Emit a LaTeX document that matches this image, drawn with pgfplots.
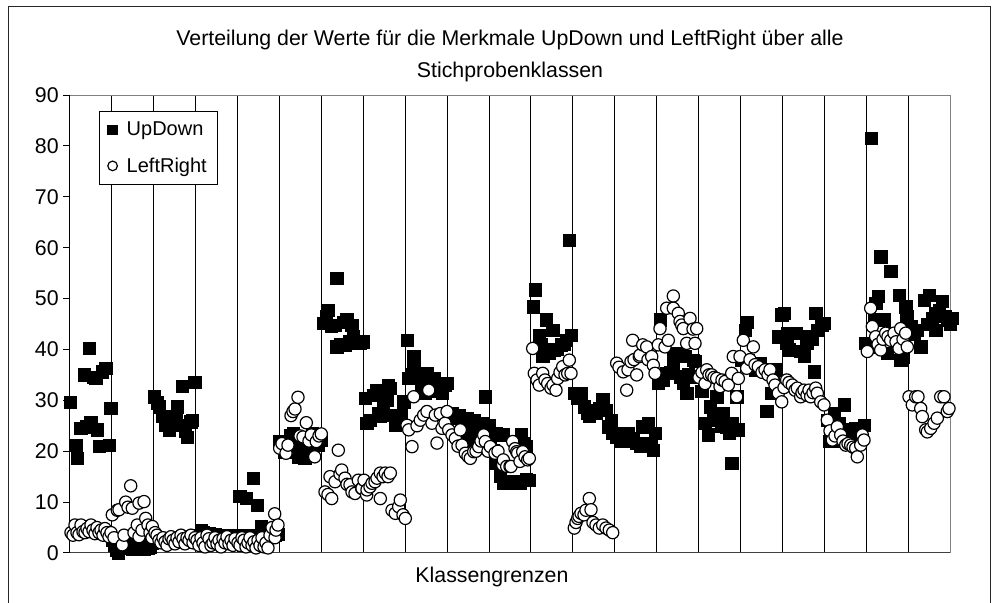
\documentclass[border=0pt]{standalone}
\usepackage{pgfplots}
\pgfplotsset{compat=1.18}
\usepackage{fontspec}
\setmainfont{Liberation Sans}

\pgfplotstableread{
x y
70.7 29.6
75.7 21.2
77.3 18.6
80.7 24.5
84 35
86 24.8
89 40.2
90.7 25.6
93 34.5
95.7 34.3
97.3 24.2
99 20.9
102.3 35.6
105.7 36.3
109 21.2
110.7 28.4
112 2.5
114 1.5
116 0.5
118 0
120 1
122 2
124 1.5
126 3
128 2.2
130 1
132 0.8
134 2.5
136 1.2
138 3.5
140 1
142 2
144 0.8
146 1.5
148 1
150 1.2
152 2
154 30.7
157 29.5
159 28.7
162.3 26.8
165.7 25.1
169 24.2
172 25.5
175.7 26.8
177.3 28.7
179 25.1
182.3 32.7
185 24
187.3 22.8
190.7 25.8
192 26
194.7 33.5
197 3
199 3.5
201 4.5
203 4
205 3
207 3.5
209 3.8
211 3
213 3.2
215 3.6
217 2.8
219 3.2
221 3.5
223 2.8
225 2.5
227 3.2
229 2.8
231 3.4
233 2.5
235 3.2
238 3
239.7 11.1
241 3.5
243 2.5
245 3.2
246.3 10.7
249 3.5
251 2.8
253 14.7
255 3
257.3 9.4
259 3.5
261 5.2
264 4
267 3.8
269.7 4.5
272 4.2
275 3.5
278 3.7
279.7 21.9
282 21
284.7 19.9
287 22
290 23
293 23.5
295 21
298 18.9
301 20
304.7 18.6
307 21
309.7 22.8
312 23.5
315 22.5
318 21.2
321 22.2
323.3 45.1
326 46.5
328.3 47.7
331 44.5
334.7 44.8
336.7 54
336.7 40.5
340 41
343 45.4
344.7 40.9
346.7 45.8
349 41.5
351.7 44.8
353.3 42.5
357 41.2
360 41.2
363.3 41.5
365 30.4
366.7 25.5
370 26
373 31
376.7 32
378 27.5
380 26.8
383 28.5
386.7 30.1
388 33
390 32.4
391.7 27.1
395.3 25.1
398 26
401 27
403.7 29.7
407 41.8
408.7 34.3
411 35
413.7 38.6
413.7 36.9
418.7 34.6
421 33
425.3 31.4
427 35.3
430 34
432 31.7
433.7 34.3
437 33
440 32
442 31.4
445 33
447 33.3
452 27.4
455 26.5
458.7 27.1
462 25.5
465 26
467 26.5
467 23.5
470 25
472 22.2
473.7 26.1
477 24.8
480 24
483 25.5
485.3 30.7
488.7 25.1
490 22.5
493.3 20.2
496.7 17.6
496 23.5
500 15
502.7 23.2
503 13.7
506.7 13.7
510 14
513.3 13.7
516 14
520 13.7
521 23.2
523.3 21.6
526 20.9
526 14.5
529.3 14.3
533.3 48.4
535.3 51.7
539.3 42.8
541 41
542.7 38.6
546 45.8
546.7 39.2
549.3 39.2
552.7 43.8
554.3 39.9
557 40
561 40.9
564 41
566 41.8
569.3 61.5
571 42.8
574.3 31.4
577 30.5
581 31.4
584.3 28.7
587 27.5
589.3 26.8
592 28
596 27.4
599 28.5
602.7 30.1
606 28.1
608 24.8
611 26.1
612.7 23.5
616 22.8
618 23.5
621 21.9
624 22
627.7 23.5
630 22.2
632.7 22.5
636 21.5
640 20.9
642.7 24.8
645 21.5
648.3 25.5
651 21.5
653.3 20.2
655 23.5
658.3 33.3
660 45.8
663 34
666.7 35.3
670 35.5
673.3 36.6
673.3 38.9
676.7 39.2
680 34.6
680 38.9
683.3 33.3
685 38.6
686.7 31.4
688.3 35
690 34.6
693.3 37.9
695 37.6
701.7 31.7
705 25.5
708.3 23.2
710 28.7
713 27
716.7 30.7
718.3 26.1
721 25
723.3 27.4
726.7 24.8
729 23.5
731.7 25.5
731.7 17.6
735 24.2
736.7 30.7
738.3 24.2
741.7 37.9
745 43.8
746.7 45.4
748.3 37.9
752 37
755 36
760 37.3
765 36
766.7 27.8
770 35.5
771.7 31.4
773.3 35.3
776 36
778.3 42.5
781.7 46.8
784 47.1
786.7 41.2
787.3 43.2
789 39.9
793.3 43.2
795.7 43.2
800.7 39.6
804 38.6
806.7 41.2
809 42.5
812 42
814 35.6
815.7 47.1
817.3 43.8
821.7 44.8
824 45.1
827.3 26.1
829 21.9
834 27.4
837.3 21.9
839 25.5
841 23
844 29.1
847 23
849 24.2
852.3 22.2
855.7 24.5
858 23.5
861 24.5
864 25.1
865.7 41.2
868 40.5
871.3 81.5
874 45.8
875.7 49.1
878.3 50.4
880.7 58.2
884 45.8
887.3 39.2
890.7 55.3
894 43.2
896 42
899 50.7
900.7 37.9
903.3 38.5
905.7 48.4
906.7 46.4
910.7 44.5
914 43
917.3 43.8
920.7 40.5
924 49.7
927 45
929 50.7
932 46
935.7 43.8
935.7 47.1
939 47.7
942.3 49.4
945 46.5
947.3 45.8
950 45
952.3 46.1
}\updown

\pgfplotstableread{
x y
71 4
73 3.5
75 5.5
77 4
79 3.6
81 5.5
83 4.2
85 4
87 4.8
89 4.2
91 5.5
93 4.5
95 3.8
97 5
99 4
101 4.5
103 3.5
105 4.8
107 4
109 3.2
111 4
112.3 7.5
114 3
117.3 8.4
119 8.5
122.3 1.6
124 3.5
125.7 10
128 9
130.7 13.2
132.3 8.8
134 4
137.3 5.5
139 3.2
139 9.8
142 4.5
144 10.1
145.7 6.8
148 5.5
150 4
152.3 5.2
152 3
155 4
157 3.5
159 2.5
161 2
163 3
165 2.2
167 1.5
169 2.8
171 3.2
173 2.5
175 1.8
177 3
179 2.2
181 3.5
183 2.8
185 1.8
187 3
189 2.5
191 3.5
193 2
195 3
197 2.5
199 1.5
201 3
203 2
205 1.2
207 3.5
209 2.8
211 1.5
213 2
215 3
217 1.8
219 2.5
221 1.2
223 2.8
225 2
227 3.2
229 1.8
231 2.5
233 1.5
235 2.8
238 2
240 1.5
242 3
244 2.5
246 1.2
248 2
250 3
252 1.5
254 2.2
256 1
258 2.5
260 1.5
262 3
264 1.2
266 2
268 1
270 3.5
272 5
274.7 7.7
275 3
276 4.5
278 5.5
279.7 20.6
282 21.5
286 19.6
288 21.2
291 27
293 27.8
295 28.3
298 30.6
300 23
303 22.8
306.3 25.6
309 22
311.3 23.2
314.7 18.9
316.3 21.9
319 23
321.3 23.4
325 12
328 11.5
330 15
331.7 10.7
335 14
338.3 20.2
340 15.5
341.7 16.3
345 14.7
347 13.5
350 13.4
352 12
355 11.7
358.3 14.3
361.7 12.7
362 12.7
364 14.3
366.7 11.4
367 12.4
370 13
372 13.7
375 14
377 14.7
380.3 15.7
380.3 10.7
383 15
385.3 15.7
388 15
390.3 15.7
392 8.4
395.3 7.8
398.7 9.1
400.3 10.4
403 7.5
405.3 6.8
407 25.1
408.7 24.2
412 20.9
413.7 30.7
417 25
420.3 26.1
423.7 27.1
427 27.8
428.7 32
432 25.5
435.3 27.1
437 21.6
440.3 27.4
442 24.5
445 25.5
447 27.8
448.7 24.2
452 23.2
455.3 22.5
458 21
460.3 24.2
462 21.2
465.3 19.6
468 19
470.3 18.6
473.7 19.9
476 20
478.7 20.9
481 22
483.7 23.2
485.3 21.9
488 20
490.3 20.9
495 19.6
498 20
502.7 17.3
503.3 18.3
506.7 17
510 17
511 17
512.7 21.9
515 20.5
516.7 19.9
517.7 19.6
520 18
522.7 19.9
525 18.9
527.7 18.3
529.3 18.6
532.7 40.2
534.3 35.3
537 34
539.3 33
542.7 35.3
545 34
547.7 33.3
551 32.4
553 33
556 32
557.7 34.3
560 35.5
562.7 36.6
565 35
567.7 35.3
569.3 37.9
571 35.3
574.3 4.9
576 6
577.7 6.8
579 7.2
581 7.8
584 7.5
586 8.4
589.3 10.7
591 8.5
593 6
596 5.5
599.3 4.9
602.7 5.5
606 4.9
609.3 4.5
612.7 4
616.7 37.3
619 36.5
623.3 35.6
626.7 32
628 36
631 37.6
632.7 41.8
634 38
636.7 35
639.3 38.6
640 38.9
642.7 40.9
646.7 40.5
648 38
651.7 38.6
653.3 36.9
655 35.3
658.3 40.9
660 44.1
665 40.5
666.7 48.1
668.3 41.8
673.3 50.5
673.3 48.1
678.3 47.1
680 45.5
681.7 44.8
683.3 44.1
686.7 41.2
690 46.1
693 44
695 41.2
696.7 44.1
699 34.5
702 35.5
705 33.3
706.7 36
709 35
711.7 35
714 34.5
716.7 34.3
720 32.7
722 34
725 33.7
728.3 33
731.7 35.3
733.3 38.6
736.7 30.7
738.3 34.3
740 38.6
743.3 41.8
746.7 36.3
750 38
753.3 40.5
755 37
758.3 36.6
762 35.5
765 36
768 35
770 36
773 34
775 33
778.3 31.4
781.7 29.7
784 32.5
786.7 34
789 33.5
792.3 33
795 32
797.3 32.4
800.7 30.7
802 31.5
804 32
807 31
809 32
810.7 30.7
813 31.5
815.7 32.4
817.3 31.4
820.7 29.7
824 29.1
827.3 26.1
830 24
832.3 22.2
835 23
837.3 24.8
840.7 23.2
843 22
845.7 21.2
848 21.5
850.7 21.2
853 20.8
855.7 20.6
857.3 18.9
860.7 21.2
862.3 23.2
864 22.2
867.3 39.6
870.7 48.1
872.3 44.5
875.7 42.5
878 41
880.7 39.9
883 42
885.7 43.2
888 42.5
890.7 41.8
894 43.2
896 41.5
899 40.2
900.7 44.1
903 42
905.7 43.2
907.3 40.5
909 30.7
912.3 29.1
915.7 30.7
918 30.7
920.7 28.4
922.3 26.8
925.7 24.2
927.3 23.8
930.7 24.5
934 25.5
937.3 26.5
940.7 30.7
944 30.7
947.3 27.8
949 28.4
}\leftright

\begin{document}
\begin{tikzpicture}
\useasboundingbox (0,0) rectangle (753pt,452.25pt);
\draw[line width=0.75pt, black!85] (6pt,0) -- (6pt,447pt) -- (742.5pt,447pt) -- (742.5pt,0);
\begin{axis}[
  at={(52.5pt,37.5pt)}, anchor=south west,
  scale only axis, width=660pt, height=343.5pt,
  xmin=70, xmax=950, ymin=0, ymax=90,
  clip=false,
  axis line style={draw=black!50, line width=0.75pt},
  xtick={70,111.9048,153.8095,195.7143,237.6190,279.5238,321.4286,363.3333,405.2381,447.1429,489.0476,530.9524,572.8571,614.7619,656.6667,698.5714,740.4762,782.3810,824.2857,866.1905,908.0952},
  xticklabels={},
  xtick style={draw=none},
  xmajorgrids,
  major x grid style={black, line width=0.75pt},
  ytick={0,10,...,90},
  ytick pos=left,
  tick align=outside,
  major tick length=5pt,
  ytick style={black, line width=0.75pt},
  /pgf/number format/assume math mode=true,
  ticklabel style={font=\fontsize{16}{19}\selectfont, text=black},
  title={Verteilung der Werte für die Merkmale UpDown und LeftRight über alle\\Stichprobenklassen},
  title style={at={(0.5,1)}, anchor=center, yshift=23.25pt, align=center, font=\fontsize{16}{24}\selectfont},
  xlabel={Klassengrenzen},
  xlabel style={at={(0.4795,0)}, anchor=center, yshift=-18pt, font=\fontsize{16}{19}\selectfont},
  legend style={at={(0.0333,0.9657)}, anchor=north west, draw=black, line width=0.75pt,
    font=\fontsize{15}{18}\selectfont, inner xsep=6pt, inner ysep=6pt, row sep=11pt,
    /tikz/every odd column/.append style={column sep=5pt}},
  legend cell align=left,
  legend image code/.code={\draw[#1, mark size=3.6pt] plot coordinates {(0pt,0pt)};},
]
\draw[black, line width=0.75pt] (axis cs:70,0) -- (axis cs:70,90);
\draw[black!75, line width=0.75pt] (axis cs:70,0) -- (axis cs:950,0);
\addplot[only marks, mark=square*, mark size=4.6pt, draw=black, fill=black, line width=0.5pt] table[x=x,y=y] {\updown};
\addlegendentry{UpDown}
\addplot[only marks, mark=*, mark size=4.6pt, draw=black, fill=white, line width=0.9pt] table[x=x,y=y] {\leftright};
\addlegendentry{LeftRight}
\end{axis}
\end{tikzpicture}
\end{document}
